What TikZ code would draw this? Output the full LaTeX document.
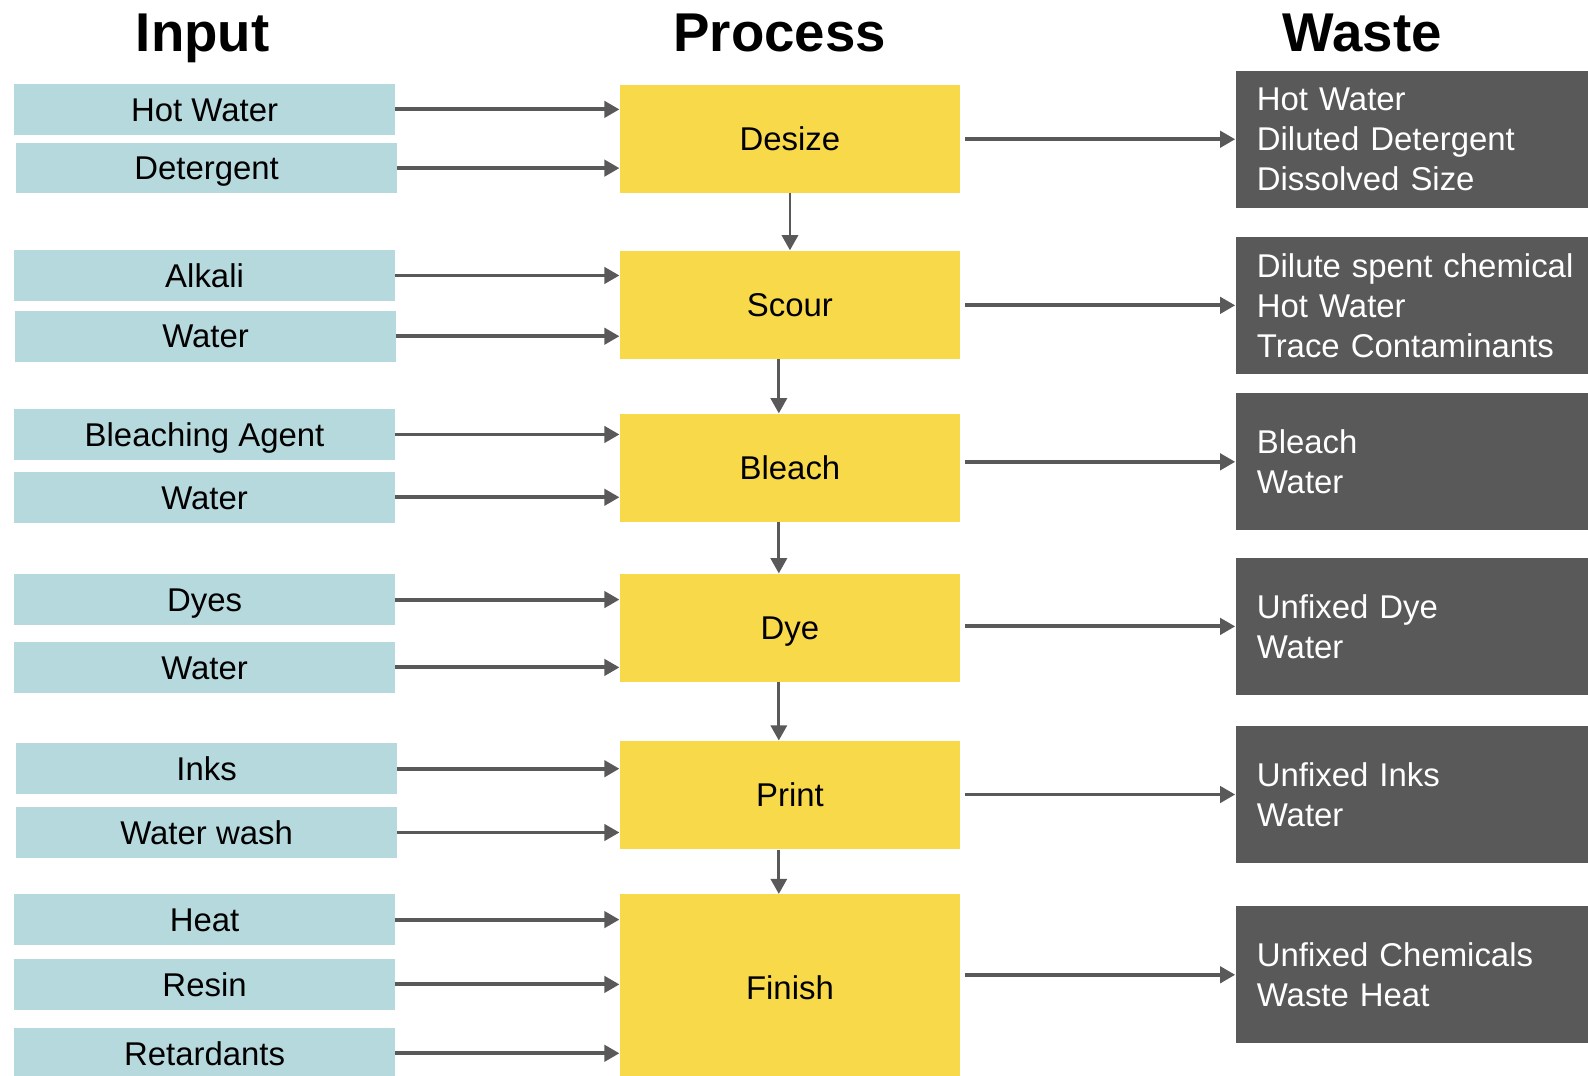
\documentclass[tikz,border=0pt]{standalone}
\usepackage{fontspec}
\setmainfont{Liberation Sans}
\usetikzlibrary{arrows.meta}
\definecolor{inblue}{HTML}{B6D9DD}
\definecolor{procyellow}{HTML}{F8D94A}
\definecolor{wastegray}{HTML}{595959}
\begin{document}
\begin{tikzpicture}[x=0.02cm,y=-0.02cm,
    inbox/.style={fill=inblue,minimum width=7.52cm,minimum height=1cm,inner sep=0pt,text height=13.2pt,text depth=0pt,font=\fontsize{18.5}{22}\selectfont},
    procbox/.style={fill=procyellow,minimum width=6.72cm,minimum height=2.14cm,inner sep=0pt,text height=13.2pt,text depth=0pt,font=\fontsize{18.5}{22}\selectfont},
    wastebox/.style={fill=wastegray,text=white,text width=6.36cm,inner xsep=0.42cm,inner ysep=0pt,minimum height=2.7cm,align=left,font=\fontsize{18.5}{22.5}\selectfont},
    head/.style={inner sep=0pt,text height=22pt,text depth=0pt,font=\bfseries\fontsize{30.7}{36}\selectfont},
    flow/.style={draw=wastegray,line width=2.2pt,-{Triangle[length=0.3cm,width=0.32cm]}}]
    \clip (0,0) rectangle (1568,1062);
    \node[head] (hin) at (200,32) {Input};
    \node[head] (hproc) at (770,32) {Process};
    \node[head] (hwaste) at (1345,32) {Waste};
    \node[procbox] (desize) at (780,137) {Desize};
    \node[procbox] (scour) at (780,301) {Scour};
    \node[procbox] (bleach) at (780,462) {Bleach};
    \node[procbox] (dye) at (780,620) {Dye};
    \node[procbox] (print) at (780,785) {Print};
    \node[procbox,minimum height=3.68cm] (finish) at (780,975) {Finish};
    \node[inbox] (hotwater) at (202,108) {Hot Water};
    \node[inbox] (detergent) at (204,166) {Detergent};
    \node[inbox] (alkali) at (202,272) {Alkali};
    \node[inbox] (water1) at (203,332) {Water};
    \node[inbox] (bleaching) at (202,429) {Bleaching Agent};
    \node[inbox] (water2) at (202,491) {Water};
    \node[inbox] (dyes) at (202,592) {Dyes};
    \node[inbox] (water3) at (202,659) {Water};
    \node[inbox] (inks) at (204,759) {Inks};
    \node[inbox] (waterwash) at (204,822) {Water wash};
    \node[inbox] (heat) at (202,908) {Heat};
    \node[inbox] (resin) at (202,972) {Resin};
    \node[inbox] (retard) at (202,1040) {Retardants};
    \node[wastebox] (wdesize) at (1400,137.5) {Hot Water\\Diluted Detergent\\Dissolved Size};
    \node[wastebox] (wscour) at (1400,301.5) {Dilute spent chemical\\Hot Water\\Trace Contaminants};
    \node[wastebox] (wbleach) at (1400,456) {Bleach\\Water};
    \node[wastebox] (wdye) at (1400,618.5) {Unfixed Dye\\Water};
    \node[wastebox] (wprint) at (1400,784.5) {Unfixed Inks\\Water};
    \node[wastebox] (wfinish) at (1400,962.5) {Unfixed Chemicals\\Waste Heat};
    \foreach \a/\b in {hotwater/desize,detergent/desize,alkali/scour,water1/scour,bleaching/bleach,water2/bleach,dyes/dye,water3/dye,inks/print,waterwash/print,heat/finish,resin/finish,retard/finish}
        \draw[flow] (\a.east) -- (\a.east -| \b.west);
    \foreach \a/\b in {desize/wdesize,scour/wscour,bleach/wbleach,dye/wdye,print/wprint,finish/wfinish}
        \draw[flow,shorten <=0.1cm] (\b.west -| \a.east) -- (\b.west);
    \draw[flow,line width=1.6pt] (desize) -- (scour);
    \draw[flow,line width=1.6pt] ([xshift=-0.22cm]scour.south) -- ([xshift=-0.22cm]bleach.north);
    \draw[flow,line width=1.6pt] ([xshift=-0.22cm]bleach.south) -- ([xshift=-0.22cm]dye.north);
    \draw[flow,line width=1.6pt] ([xshift=-0.22cm]dye.south) -- ([xshift=-0.22cm]print.north);
    \draw[flow,line width=1.6pt] ([xshift=-0.22cm]print.south) -- ([xshift=-0.22cm]finish.north);
\end{tikzpicture}
\end{document}
